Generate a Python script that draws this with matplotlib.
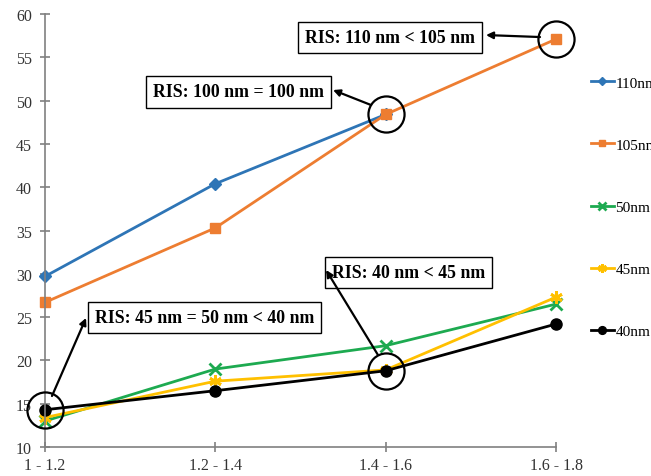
import numpy as np
import matplotlib
matplotlib.use("Agg")
import matplotlib.pyplot as plt

categories = ["1 - 1.2", "1.2 - 1.4", "1.4 - 1.6", "1.6 - 1.8"]
s110 = [29.7, 40.4, 48.4, np.nan]
s105 = [26.7, 35.3, 48.4, 57.1]
s50 = [13.0, 19.0, 21.7, 26.5]
s45 = [13.4, 17.6, 18.9, 27.3]
s40 = [14.3, 16.5, 18.8, 24.2]
labels = ["110nm", "105nm", "50nm", "45nm", "40nm"]

fig = plt.figure(figsize=(6.51, 4.77), dpi=100)
ax = fig.add_axes([45/651, 1-448/477, (556-45)/651, (448-15)/477])
x = np.arange(len(categories))

serif = "Liberation Serif"
styles = [
    (s110, "#2E75B6", "D", 6, {}),
    (s105, "#ED7D31", "s", 7, {}),
    (s50, "#1DAA50", "x", 8, {"markeredgewidth": 2}),
    (s45, "#FFC000", (6, 2, 0), 9, {"markeredgewidth": 2}),
    (s40, "#000000", "o", 8, {}),
]
for (vals, col, mk, ms, kw), lab in zip(styles, labels):
    ax.plot(x, vals, color=col, lw=2.0, marker=mk, markersize=ms, label=lab,
            clip_on=False, **kw)

ax.set_xlim(0, 3)
ax.set_ylim(10, 60)
ax.set_yticks(np.arange(10, 61, 5))
ax.set_xticks(x)
ax.set_xticklabels(categories)
for s in ["top", "right"]:
    ax.spines[s].set_visible(False)
for s in ["left", "bottom"]:
    ax.spines[s].set_color("#808080")
    ax.spines[s].set_linewidth(1.2)
ax.tick_params(direction="inout", length=7, color="#808080", width=1.2,
               labelsize=11.5)
ax.tick_params(axis="y", pad=6)
ax.tick_params(axis="x", pad=4)
for t in ax.get_xticklabels() + ax.get_yticklabels():
    t.set_fontfamily(serif)
    t.set_color("#333333")

# circles
circ_x = [3, 2, 2, 0]
circ_y = [s105[3], s105[2], s40[2], s40[0]]
ax.plot(circ_x, circ_y, linestyle="none", marker="o", markersize=26,
        markerfacecolor="none", markeredgecolor="black", markeredgewidth=1.6,
        clip_on=False, zorder=10)

# annotation boxes
boxes = [
    ("RIS: 110 nm < 105 nm", 2.025, 57.3, (2.906, 57.34), (2.589, 57.57)),
    ("RIS: 100 nm = 100 nm", 1.136, 51.0, (1.914, 49.49), (1.691, 51.22)),
    ("RIS: 40 nm < 45 nm", 2.134, 30.15, (1.955, 20.62), (1.650, 30.44)),
    ("RIS: 45 nm = 50 nm < 40 nm", 0.936, 24.95, (0.041, 15.89), (0.241, 24.90)),
]
for txt, tx, ty, start, end in boxes:
    ax.text(tx, ty, txt, ha="center", va="center", fontsize=12.8,
            fontweight="bold", fontfamily=serif, zorder=12,
            bbox=dict(boxstyle="square,pad=0.4", fc="white", ec="black", lw=1))
    ax.annotate("", xy=end, xytext=start,
                arrowprops=dict(arrowstyle="-|>", color="black", lw=1.6,
                                mutation_scale=10, shrinkA=0, shrinkB=0),
                zorder=13, annotation_clip=False)

leg = fig.legend(loc="upper left", bbox_to_anchor=(591/651, 1-77/477),
                 frameon=False, handlelength=1.5, handletextpad=0.1,
                 labelspacing=3.17, markerscale=0.7,
                 prop={"family": serif, "size": 11},
                 borderaxespad=0, borderpad=0)

fig.savefig("out.png", dpi=100)
